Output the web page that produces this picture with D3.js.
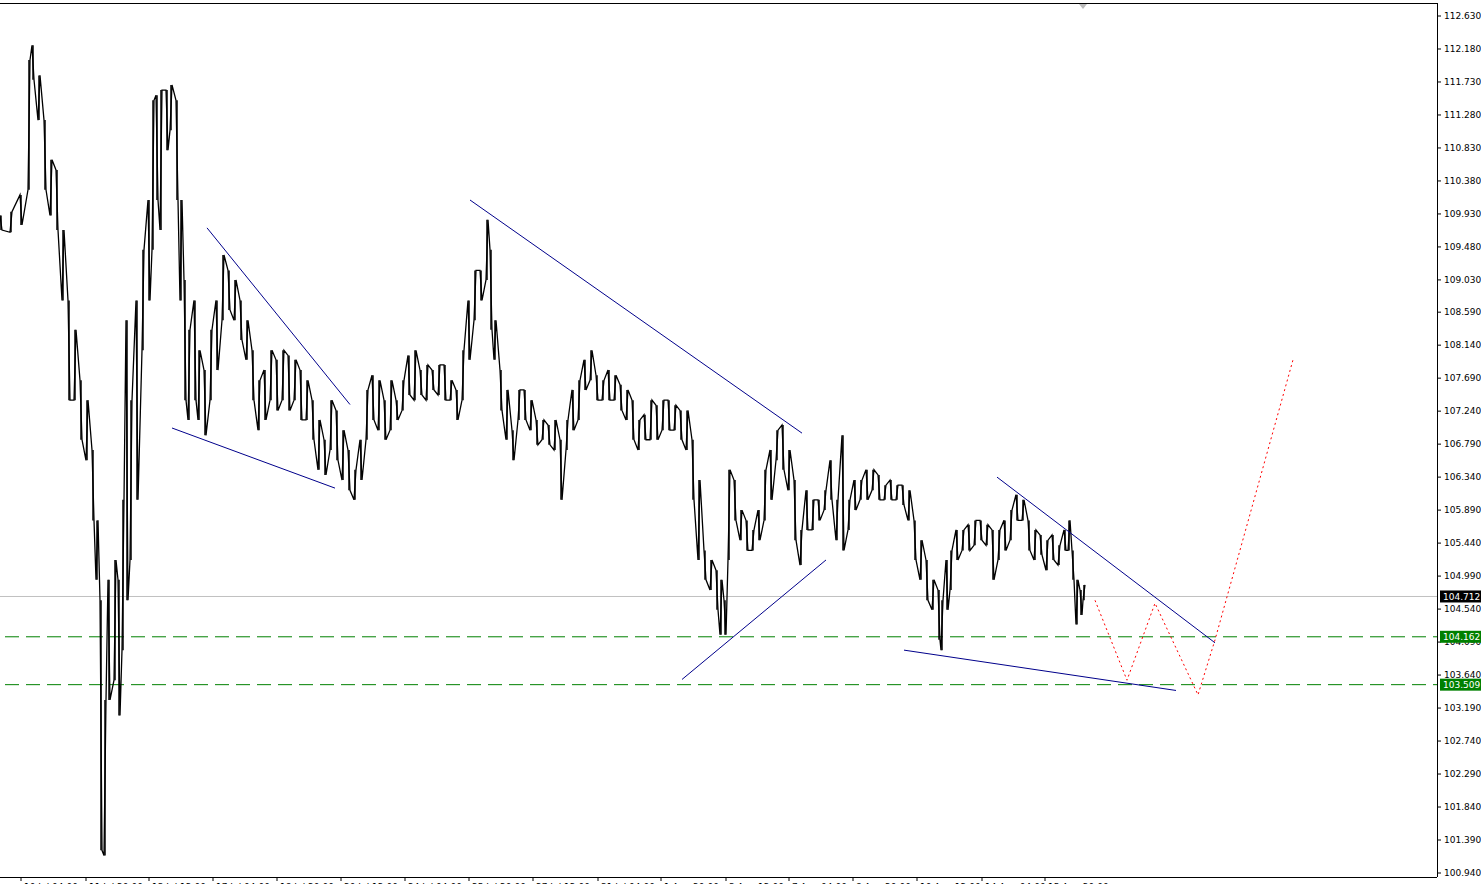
<!DOCTYPE html>
<html><head><meta charset="utf-8">
<script src="https://cdn.jsdelivr.net/npm/d3@7"></script>
<style>body{margin:0;background:#fff}svg{display:block}text{font-family:"DejaVu Sans",sans-serif;font-size:9px}</style>
</head><body><div id="chart"></div>
<script>
// bar time, high, low
const bars = [
[0,109.91,109.71],[10,109.96,109.68],[20,110.19,109.78],[28,112.03,110.26],[32,112.23,111.76],[38,111.82,111.21],
[44,111.21,110.26],[50,110.67,109.91],[56,110.53,109.71],[62,109.71,108.75],[68,108.75,107.39],[74,108.35,107.39],
[80,107.66,106.85],[86,107.39,106.57],[92,106.71,105.75],[96,105.75,104.94],[100,104.66,101.25],[104,103.30,101.18],
[108,104.94,103.30],[114,105.21,103.57],[118,104.94,103.09],[122,106.03,103.98],[126,108.48,104.66],[130,107.39,105.21],
[136,108.75,106.03],[142,109.44,108.07],[148,110.12,108.75],[152,111.48,109.44],[156,111.55,110.12],[160,111.62,109.71],
[166,111.62,110.80],[170,111.69,111.07],[176,111.48,110.12],[180,110.12,108.75],[184,109.03,107.39],[188,108.35,107.12],
[194,108.75,107.39],[198,108.07,107.12],[204,107.80,106.91],[210,108.35,107.39],[216,108.75,107.80],[222,109.37,108.48],
[228,109.16,108.62],[234,109.03,108.48],[240,108.75,108.21],[246,108.48,107.94],[252,108.07,107.39],[258,107.66,106.98],
[264,107.80,107.12],[270,108.07,107.39],[276,107.94,107.25],[282,108.07,107.39],[288,108.00,107.25],[294,107.94,107.39],
[300,107.80,107.12],[306,107.66,107.12],[312,107.39,106.85],[318,107.12,106.44],[324,106.85,106.37],[330,107.39,106.71],
[336,107.25,106.57],[342,106.98,106.30],[348,106.71,106.16],[354,106.44,106.03],[360,106.85,106.30],[366,107.53,106.85],
[372,107.73,107.12],[378,107.66,106.98],[384,107.39,106.85],[390,107.66,106.98],[396,107.39,107.12],[402,107.66,107.25],
[408,108.00,107.46],[414,108.07,107.39],[420,107.80,107.46],[426,107.87,107.39],[432,107.80,107.53],[438,107.87,107.46],
[444,107.87,107.39],[450,107.66,107.39],[456,107.53,107.12],[462,108.07,107.39],[468,108.75,107.94],[474,109.16,108.48],
[480,109.16,108.75],[486,109.85,109.03],[490,109.44,108.35],[494,108.48,107.94],[500,107.80,107.25],[506,107.53,106.85],
[512,106.98,106.57],[518,107.53,107.12],[524,107.53,107.12],[530,107.39,106.98],[536,107.12,106.78],[542,107.12,106.85],
[548,107.05,106.78],[554,107.12,106.71],[560,106.85,106.03],[566,107.12,106.71],[572,107.53,106.98],[578,107.66,107.12],
[584,107.94,107.53],[590,108.07,107.66],[596,107.73,107.39],[602,107.66,107.39],[608,107.80,107.39],[614,107.73,107.39],
[620,107.60,107.25],[626,107.53,107.12],[632,107.39,106.85],[638,107.12,106.71],[644,107.19,106.85],[650,107.39,106.85],
[656,107.32,106.85],[662,107.39,106.98],[668,107.39,106.98],[674,107.32,106.98],[680,107.25,106.85],[686,107.25,106.71],
[692,106.85,106.03],[698,106.30,105.21],[704,105.34,104.94],[710,105.21,104.80],[716,105.07,104.53],[720,104.94,104.19],
[724,104.66,104.19],[728,106.44,105.21],[734,106.30,105.75],[740,105.89,105.48],[746,105.75,105.34],[752,105.62,105.34],
[758,105.89,105.48],[764,106.44,105.75],[770,106.71,106.03],[776,106.98,106.57],[782,107.05,106.44],[788,106.71,106.16],
[794,106.30,105.48],[800,105.62,105.14],[806,106.16,105.62],[812,106.03,105.62],[818,106.03,105.75],[824,106.16,105.89],
[830,106.57,106.03],[836,106.03,105.48],[842,106.91,105.34],[848,106.03,105.62],[854,106.30,105.89],[860,106.30,106.03],
[866,106.44,106.03],[872,106.44,106.16],[878,106.37,106.03],[884,106.23,106.03],[890,106.30,106.03],[896,106.23,106.03],
[902,106.23,105.96],[908,106.16,105.75],[914,105.75,105.21],[920,105.48,104.94],[926,105.21,104.66],[932,104.94,104.53],
[938,104.80,104.12],[941,104.66,103.98],[946,105.21,104.53],[950,105.34,104.80],[956,105.62,105.21],[962,105.62,105.34],
[968,105.69,105.34],[974,105.75,105.41],[980,105.75,105.48],[986,105.69,105.41],[992,105.62,104.94],[998,105.62,105.21],
[1004,105.75,105.34],[1010,105.89,105.48],[1016,106.10,105.75],[1022,106.03,105.75],[1028,105.75,105.34],[1034,105.62,105.21],
[1040,105.55,105.28],[1046,105.48,105.07],[1052,105.55,105.21],[1058,105.41,105.14],[1064,105.62,105.34],[1068,105.75,105.34],
[1072,105.34,104.94],[1076,104.94,104.33],[1080,104.80,104.46],[1083,104.87,104.66]
];
const trendLines = [
  [[207,109.74],[350,107.33]], [[172,107.01],[335,106.19]],
  [[470,110.12],[802,106.94]], [[682,103.58],[826,105.21]],
  [[997,106.34],[1215,104.08]], [[904,103.98],[1176,103.43]]
];
const projection = [[1095,104.66],[1127,103.57],[1155,104.62],[1198,103.37],[1215,104.12],[1293,107.94]];
const levels = [104.162, 103.509];
const currentPrice = 104.712;
const priceTicks = ["112.630","112.180","111.730","111.280","110.830","110.380","109.930","109.480","109.030","108.590",
  "108.140","107.690","107.240","106.790","106.340","105.890","105.440","104.990","104.540","104.090","103.640",
  "103.190","102.740","102.290","101.840","101.390","100.940"];
const timeTicks = [21,86,149,213,277,341,405,469,533,598,661,726,789,853,917,982,1045];
const timeLabels = ["10 Jul 04:00","11 Jul 20:00","13 Jul 12:00","17 Jul 04:00","18 Jul 20:00","20 Jul 12:00",
  "24 Jul 04:00","25 Jul 20:00","27 Jul 12:00","31 Jul 04:00","1 Aug 20:00","3 Aug 12:00","7 Aug 04:00",
  "8 Aug 20:00","10 Aug 12:00","14 Aug 04:00","15 Aug 20:00"];

const W = 1481, H = 884, plotW = 1437, plotH = 877;
const svg = d3.select("#chart").append("svg").attr("width", W).attr("height", H);
const x = d3.scaleLinear().domain([0, plotW]).range([0, plotW]);
const y = d3.scaleLinear().domain([100.94, 112.63]).range([873, 16]);

// frame
svg.append("line").attr("x1", 0).attr("x2", plotW).attr("y1", 3.5).attr("y2", 3.5).attr("stroke", "#000");
svg.append("path").attr("d", "M1079,4 L1087,4 L1083,9 Z").attr("fill", "#bbb");

// current price line
svg.append("line").attr("x1", 0).attr("x2", plotW).attr("y1", y(currentPrice)).attr("y2", y(currentPrice)).attr("stroke", "#c0c0c0");

// support levels
svg.selectAll(".lvl").data(levels).join("line")
  .attr("x1", 5).attr("x2", plotW).attr("y1", d => y(d)).attr("y2", d => y(d))
  .attr("stroke", "#008000").attr("stroke-width", 1).attr("stroke-dasharray", "14,7");

// price path: jagged through highs and lows
let pts = [];
bars.forEach((b, i) => {
  if (i % 2 === 0) { pts.push([b[0], b[1]]); pts.push([b[0] + 2, b[2]]); }
  else { pts.push([b[0], b[2]]); pts.push([b[0] + 2, b[1]]); }
});
const line = d3.line().x(d => x(d[0])).y(d => y(d[1]));
svg.append("path").attr("d", line(pts)).attr("fill", "none").attr("stroke", "#000").attr("stroke-width", 1.3);
svg.selectAll(".bar").data(bars).join("line")
  .attr("x1", d => x(d[0]) + 1).attr("x2", d => x(d[0]) + 1)
  .attr("y1", d => y(d[1])).attr("y2", d => y(d[2])).attr("stroke", "#000").attr("stroke-width", 1.5);

// trend lines
svg.selectAll(".tl").data(trendLines).join("path")
  .attr("d", d => line(d)).attr("stroke", "#00008b").attr("stroke-width", 1).attr("fill", "none");

// projection
svg.append("path").attr("d", line(projection)).attr("fill", "none")
  .attr("stroke", "#ff0000").attr("stroke-width", 1).attr("stroke-dasharray", "2,3");

// right axis
svg.append("line").attr("x1", plotW + 0.5).attr("x2", plotW + 0.5).attr("y1", 3).attr("y2", plotH).attr("stroke", "#000");
const pt = svg.selectAll(".pt").data(priceTicks).join("g").attr("transform", d => `translate(${plotW},${y(+d)})`);
pt.append("line").attr("x1", 0).attr("x2", 4).attr("stroke", "#000");
pt.append("text").attr("x", 7).attr("y", 3).text(d => d);

function tag(v, bg) {
  const g = svg.append("g").attr("transform", `translate(${plotW + 3},${y(v)})`);
  g.append("rect").attr("x", 0).attr("y", -6).attr("width", 41).attr("height", 12).attr("fill", bg);
  g.append("text").attr("x", 3).attr("y", 3.5).attr("fill", "#fff").text(v.toFixed(3));
}
tag(currentPrice, "#000");
levels.forEach(v => tag(v, "#008000"));

// bottom axis
svg.append("line").attr("x1", 0).attr("x2", plotW).attr("y1", plotH + 0.5).attr("y2", plotH + 0.5).attr("stroke", "#000");
const tt = svg.selectAll(".tt").data(timeTicks).join("g").attr("transform", d => `translate(${x(d)},${plotH})`);
tt.append("line").attr("y1", 0).attr("y2", 4).attr("stroke", "#000");
tt.append("text").attr("x", 3).attr("y", 13).text((d, i) => timeLabels[i]);
</script></body></html>
